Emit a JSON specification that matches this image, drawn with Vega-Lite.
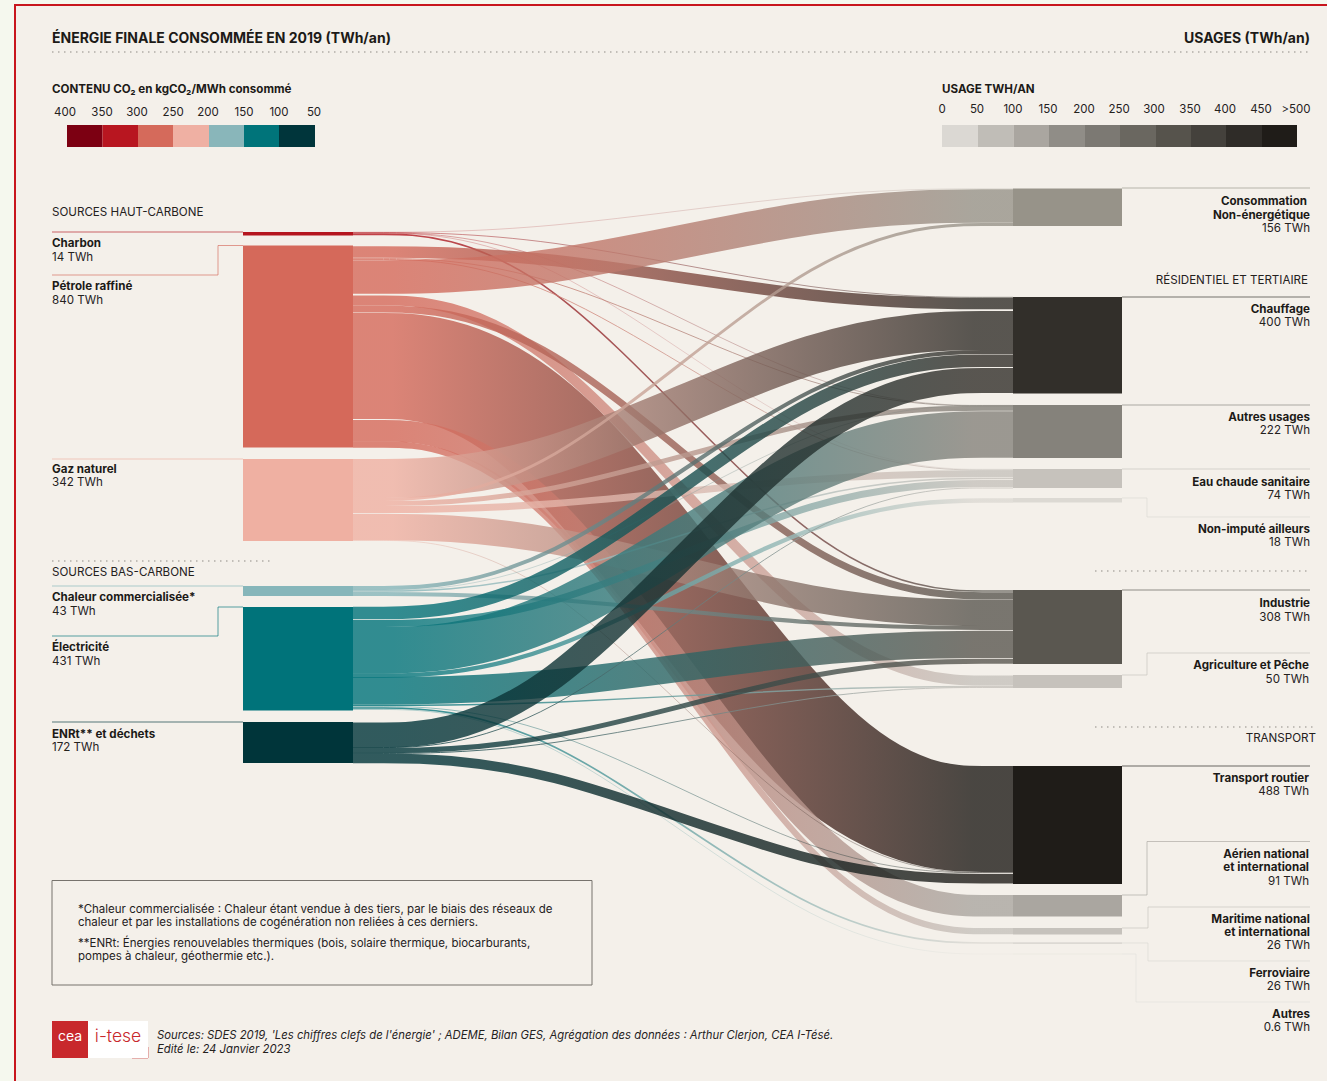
{
"$schema":"https://vega.github.io/schema/vega-lite/v6.json",
"width":1327,"height":1081,"padding":0,
"autosize":"none",
"background":"#f5f8ee",
"config":{"view":{"stroke":null},"text":{"font":"Inter"}},
"layer":[
{"data":{"values":[{"x":15,"x2":1400,"y":5,"y2":1150}]},
 "mark":{"type":"rect","fill":"#f4f0ea","stroke":"#c8161d","strokeWidth":2},
 "encoding":{"x":{"field":"x","type":"quantitative","axis":null,"scale":{"domain":[0,1327],"nice":false,"zero":false}},"x2":{"field":"x2"},
 "y":{"field":"y","type":"quantitative","axis":null,"scale":{"domain":[0,1081],"reverse":true,"nice":false,"zero":false}},"y2":{"field":"y2"}}},
{"data":{"values":[{"x":52,"x2":592,"y":880.5,"y2":985}]},
 "mark":{"type":"rect","fill":"transparent","stroke":"#77736d","strokeWidth":1},
 "encoding":{"x":{"field":"x","type":"quantitative"},"x2":{"field":"x2"},"y":{"field":"y","type":"quantitative"},"y2":{"field":"y2"}}},
{"data":{"values":[
{"id":"a","x":[52,1310],"y":[52,52.01]},
{"id":"b","x":[52,270],"y":[561,561.01]},
{"id":"c","x":[1095,1310],"y":[571,571.01]},
{"id":"d","x":[1095,1313],"y":[727,727.01]}]},
 "transform":[{"flatten":["x","y"]}],
 "mark":{"type":"line","stroke":"#8f8b85","strokeWidth":1,"strokeDash":[1.5,4.5]},
 "encoding":{"detail":{"field":"id"},"x":{"field":"x","type":"quantitative"},"y":{"field":"y","type":"quantitative"}}},
{"data":{"values":[
{"node":"Charbon","x":[52,243],"y":[232,232]},
{"node":"Pétrole","x":[52,218,218,243],"y":[275,275,245.5,245.5]},
{"node":"Gaz","x":[52,243],"y":[459,459]},
{"node":"Chaleur","x":[52,243],"y":[586,586]},
{"node":"Électricité","x":[52,218,218,243],"y":[636,636,607,607]},
{"node":"ENRt","x":[52,243],"y":[722,722]},
{"node":"Non-énergétique","x":[1122,1310],"y":[188,188]},
{"node":"Chauffage","x":[1122,1310],"y":[297,297]},
{"node":"Autres usages","x":[1122,1310],"y":[405,405]},
{"node":"ECS","x":[1122,1310],"y":[469,469]},
{"node":"Non-imputé","x":[1122,1147,1147,1310],"y":[498,498,517,517]},
{"node":"Industrie","x":[1122,1310],"y":[590,590]},
{"node":"Agriculture","x":[1122,1147,1147,1310],"y":[675,675,653,653]},
{"node":"Routier","x":[1122,1310],"y":[766,766]},
{"node":"Aérien","x":[1122,1147,1147,1310],"y":[895,895,841.5,841.5]},
{"node":"Maritime","x":[1122,1148,1148,1310],"y":[928,928,907,907]},
{"node":"Ferroviaire","x":[1122,1148,1148,1310],"y":[943,943,961,961]},
{"node":"Autres","x":[1122,1136,1136,1310],"y":[954,954,1002,1002]},
{"node":"LogoRed","x":[132,148,148],"y":[1058,1058,1047]}]},
 "transform":[{"flatten":["x","y"]}],
 "mark":{"type":"line","strokeWidth":1,"opacity":0.65},
 "encoding":{"order":null,"detail":{"field":"node"},"x":{"field":"x","type":"quantitative"},"y":{"field":"y","type":"quantitative"},
 "color":{"field":"node","type":"nominal","legend":null}}},
{"data":{"values":[
{"flow":"Charbon>Non-énergétique","twh":1.2,"x":[353,537,829,1013],"y":[232.2,232.2,188.8,188.8]},
{"flow":"Charbon>Chauffage","twh":2.5,"x":[353,537,829,1013],"y":[232.6,232.6,297.3,297.3]},
{"flow":"Charbon>Autres usages","twh":2,"x":[353,537,829,1013],"y":[233,233,405.4,405.4]},
{"flow":"Charbon>ECS","twh":1.5,"x":[353,537,829,1013],"y":[233.3,233.3,469.3,469.3]},
{"flow":"Charbon>Industrie","twh":6.5,"x":[353,537,829,1013],"y":[234.4,234.4,591,591]},
{"flow":"Pétrole>Chauffage","twh":48,"x":[353,537,829,1013],"y":[252,252,303.6,303.6]},
{"flow":"Pétrole>Autres usages","twh":3.5,"x":[353,537,829,1013],"y":[258.5,258.5,405.8,405.8]},
{"flow":"Pétrole>ECS","twh":4,"x":[353,537,829,1013],"y":[259.5,259.5,470,470]},
{"flow":"Pétrole>Non-énergétique","twh":140,"x":[353,537,829,1013],"y":[277,277,206,206]},
{"flow":"Pétrole>Agriculture","twh":42,"x":[353,537,829,1013],"y":[300.5,300.5,680.5,680.5]},
{"flow":"Pétrole>Industrie","twh":29,"x":[353,537,829,1013],"y":[309,309,595.75,595.75]},
{"flow":"Pétrole>Routier","twh":441,"x":[353,537,829,1013],"y":[366,366,819,819]},
{"flow":"Pétrole>Aérien","twh":90,"x":[353,537,829,1013],"y":[430.75,430.75,905.75,905.75]},
{"flow":"Pétrole>Maritime","twh":26,"x":[353,537,829,1013],"y":[444.5,444.5,931.2,931.2]},
{"flow":"Gaz>Chauffage","twh":162,"x":[353,537,829,1013],"y":[478.5,478.5,330.5,330.5]},
{"flow":"Gaz>Non-énergétique","twh":12,"x":[353,537,829,1013],"y":[499.5,499.5,224.5,224.5]},
{"flow":"Gaz>Autres usages","twh":21,"x":[353,537,829,1013],"y":[503.5,503.5,408.2,408.2]},
{"flow":"Gaz>ECS","twh":29,"x":[353,537,829,1013],"y":[509.5,509.5,473.7,473.7]},
{"flow":"Gaz>Industrie","twh":110,"x":[353,537,829,1013],"y":[527,527,612.75,612.75]},
{"flow":"Gaz>Routier","twh":2,"x":[353,537,829,1013],"y":[540.5,540.5,872.5,872.5]},
{"flow":"Chaleur>Chauffage","twh":16.6,"x":[353,537,829,1013],"y":[588,588,352,352]},
{"flow":"Chaleur>Autres usages","twh":2,"x":[353,537,829,1013],"y":[590.2,590.2,405.5,405.5]},
{"flow":"Chaleur>ECS","twh":6,"x":[353,537,829,1013],"y":[591,591,478.5,478.5]},
{"flow":"Chaleur>Industrie","twh":17,"x":[353,537,829,1013],"y":[594,594,628,628]},
{"flow":"Électricité>Chauffage","twh":52,"x":[353,537,829,1013],"y":[613,613,360.75,360.75]},
{"flow":"Électricité>ECS","twh":29,"x":[353,537,829,1013],"y":[623.5,623.5,483.5,483.5]},
{"flow":"Électricité>Autres usages","twh":193,"x":[353,537,829,1013],"y":[650.2,650.2,434.5,434.5]},
{"flow":"Électricité>Non-imputé","twh":18,"x":[353,537,829,1013],"y":[675.5,675.5,500.5,500.5]},
{"flow":"Électricité>Industrie","twh":114,"x":[353,537,829,1013],"y":[690.7,690.7,644.4,644.4]},
{"flow":"Électricité>Agriculture","twh":6,"x":[353,537,829,1013],"y":[705.3,705.3,686.5,686.5]},
{"flow":"Électricité>Routier","twh":2,"x":[353,537,829,1013],"y":[706.6,706.6,872.8,872.8]},
{"flow":"Électricité>Ferroviaire","twh":7,"x":[353,537,829,1013],"y":[708,708,943,943]},
{"flow":"Électricité>Autres","twh":1.5,"x":[353,537,829,1013],"y":[709.5,709.5,954,954]},
{"flow":"ENRt>Chauffage","twh":104,"x":[353,537,829,1013],"y":[735,735,380.5,380.5]},
{"flow":"ENRt>ECS","twh":4,"x":[353,537,829,1013],"y":[747.5,747.5,488,488]},
{"flow":"ENRt>Industrie","twh":21,"x":[353,537,829,1013],"y":[750.5,750.5,661.2,661.2]},
{"flow":"ENRt>Agriculture","twh":4,"x":[353,537,829,1013],"y":[753.4,753.4,687.5,687.5]},
{"flow":"ENRt>Routier","twh":40,"x":[353,537,829,1013],"y":[758.4,758.4,878.7,878.7]}]},
 "transform":[{"flatten":["x","y"]}],
 "encoding":{"order":null,
 "x":{"field":"x","type":"quantitative"},"y":{"field":"y","type":"quantitative"},
 "size":{"field":"twh","type":"quantitative","legend":null,"scale":{"domain":[0,840],"range":[0,202]}}},
 "layer":[
 {"transform":[{"filter":{"field":"flow","equal":"Charbon>Non-énergétique"}}],"mark":{"type":"line","interpolate":"basis","opacity":0.8,"stroke":{"gradient":"linear","x1":0,"y1":0,"x2":1,"y2":0,"stops":[{"offset":0.06,"color":"#b5161f"},{"offset":0.94,"color":"#979389"}]}}},
 {"transform":[{"filter":{"field":"flow","equal":"Charbon>Chauffage"}}],"mark":{"type":"line","interpolate":"basis","opacity":0.8,"stroke":{"gradient":"linear","x1":0,"y1":0,"x2":1,"y2":0,"stops":[{"offset":0.06,"color":"#b5161f"},{"offset":0.94,"color":"#322f2a"}]}}},
 {"transform":[{"filter":{"field":"flow","equal":"Charbon>Autres usages"}}],"mark":{"type":"line","interpolate":"basis","opacity":0.8,"stroke":{"gradient":"linear","x1":0,"y1":0,"x2":1,"y2":0,"stops":[{"offset":0.06,"color":"#b5161f"},{"offset":0.94,"color":"#85827b"}]}}},
 {"transform":[{"filter":{"field":"flow","equal":"Charbon>ECS"}}],"mark":{"type":"line","interpolate":"basis","opacity":0.8,"stroke":{"gradient":"linear","x1":0,"y1":0,"x2":1,"y2":0,"stops":[{"offset":0.06,"color":"#b5161f"},{"offset":0.94,"color":"#c6c2bc"}]}}},
 {"transform":[{"filter":{"field":"flow","equal":"Charbon>Industrie"}}],"mark":{"type":"line","interpolate":"basis","opacity":0.8,"stroke":{"gradient":"linear","x1":0,"y1":0,"x2":1,"y2":0,"stops":[{"offset":0.06,"color":"#b5161f"},{"offset":0.94,"color":"#5a5750"}]}}},
 {"transform":[{"filter":{"field":"flow","equal":"Pétrole>Chauffage"}}],"mark":{"type":"line","interpolate":"basis","opacity":0.8,"stroke":{"gradient":"linear","x1":0,"y1":0,"x2":1,"y2":0,"stops":[{"offset":0.06,"color":"#d5695a"},{"offset":0.94,"color":"#322f2a"}]}}},
 {"transform":[{"filter":{"field":"flow","equal":"Pétrole>Autres usages"}}],"mark":{"type":"line","interpolate":"basis","opacity":0.8,"stroke":{"gradient":"linear","x1":0,"y1":0,"x2":1,"y2":0,"stops":[{"offset":0.06,"color":"#d5695a"},{"offset":0.94,"color":"#85827b"}]}}},
 {"transform":[{"filter":{"field":"flow","equal":"Pétrole>ECS"}}],"mark":{"type":"line","interpolate":"basis","opacity":0.8,"stroke":{"gradient":"linear","x1":0,"y1":0,"x2":1,"y2":0,"stops":[{"offset":0.06,"color":"#d5695a"},{"offset":0.94,"color":"#c6c2bc"}]}}},
 {"transform":[{"filter":{"field":"flow","equal":"Pétrole>Non-énergétique"}}],"mark":{"type":"line","interpolate":"basis","opacity":0.8,"stroke":{"gradient":"linear","x1":0,"y1":0,"x2":1,"y2":0,"stops":[{"offset":0.06,"color":"#d5695a"},{"offset":0.94,"color":"#979389"}]}}},
 {"transform":[{"filter":{"field":"flow","equal":"Pétrole>Agriculture"}}],"mark":{"type":"line","interpolate":"basis","opacity":0.8,"stroke":{"gradient":"linear","x1":0,"y1":0,"x2":1,"y2":0,"stops":[{"offset":0.06,"color":"#d5695a"},{"offset":0.94,"color":"#c6c2bc"}]}}},
 {"transform":[{"filter":{"field":"flow","equal":"Pétrole>Industrie"}}],"mark":{"type":"line","interpolate":"basis","opacity":0.8,"stroke":{"gradient":"linear","x1":0,"y1":0,"x2":1,"y2":0,"stops":[{"offset":0.06,"color":"#d5695a"},{"offset":0.94,"color":"#5a5750"}]}}},
 {"transform":[{"filter":{"field":"flow","equal":"Pétrole>Routier"}}],"mark":{"type":"line","interpolate":"basis","opacity":0.8,"stroke":{"gradient":"linear","x1":0,"y1":0,"x2":1,"y2":0,"stops":[{"offset":0.06,"color":"#d5695a"},{"offset":0.94,"color":"#1f1c18"}]}}},
 {"transform":[{"filter":{"field":"flow","equal":"Pétrole>Aérien"}}],"mark":{"type":"line","interpolate":"basis","opacity":0.8,"stroke":{"gradient":"linear","x1":0,"y1":0,"x2":1,"y2":0,"stops":[{"offset":0.06,"color":"#d5695a"},{"offset":0.94,"color":"#aaa6a0"}]}}},
 {"transform":[{"filter":{"field":"flow","equal":"Pétrole>Maritime"}}],"mark":{"type":"line","interpolate":"basis","opacity":0.8,"stroke":{"gradient":"linear","x1":0,"y1":0,"x2":1,"y2":0,"stops":[{"offset":0.06,"color":"#d5695a"},{"offset":0.94,"color":"#c6c2bc"}]}}},
 {"transform":[{"filter":{"field":"flow","equal":"Gaz>Chauffage"}}],"mark":{"type":"line","interpolate":"basis","opacity":0.8,"stroke":{"gradient":"linear","x1":0,"y1":0,"x2":1,"y2":0,"stops":[{"offset":0.06,"color":"#efb0a2"},{"offset":0.94,"color":"#322f2a"}]}}},
 {"transform":[{"filter":{"field":"flow","equal":"Gaz>Non-énergétique"}}],"mark":{"type":"line","interpolate":"basis","opacity":0.8,"stroke":{"gradient":"linear","x1":0,"y1":0,"x2":1,"y2":0,"stops":[{"offset":0.06,"color":"#efb0a2"},{"offset":0.94,"color":"#979389"}]}}},
 {"transform":[{"filter":{"field":"flow","equal":"Gaz>Autres usages"}}],"mark":{"type":"line","interpolate":"basis","opacity":0.8,"stroke":{"gradient":"linear","x1":0,"y1":0,"x2":1,"y2":0,"stops":[{"offset":0.06,"color":"#efb0a2"},{"offset":0.94,"color":"#85827b"}]}}},
 {"transform":[{"filter":{"field":"flow","equal":"Gaz>ECS"}}],"mark":{"type":"line","interpolate":"basis","opacity":0.8,"stroke":{"gradient":"linear","x1":0,"y1":0,"x2":1,"y2":0,"stops":[{"offset":0.06,"color":"#efb0a2"},{"offset":0.94,"color":"#c6c2bc"}]}}},
 {"transform":[{"filter":{"field":"flow","equal":"Gaz>Industrie"}}],"mark":{"type":"line","interpolate":"basis","opacity":0.8,"stroke":{"gradient":"linear","x1":0,"y1":0,"x2":1,"y2":0,"stops":[{"offset":0.06,"color":"#efb0a2"},{"offset":0.94,"color":"#5a5750"}]}}},
 {"transform":[{"filter":{"field":"flow","equal":"Gaz>Routier"}}],"mark":{"type":"line","interpolate":"basis","opacity":0.8,"stroke":{"gradient":"linear","x1":0,"y1":0,"x2":1,"y2":0,"stops":[{"offset":0.06,"color":"#efb0a2"},{"offset":0.94,"color":"#1f1c18"}]}}},
 {"transform":[{"filter":{"field":"flow","equal":"Chaleur>Chauffage"}}],"mark":{"type":"line","interpolate":"basis","opacity":0.8,"stroke":{"gradient":"linear","x1":0,"y1":0,"x2":1,"y2":0,"stops":[{"offset":0.06,"color":"#86b6ba"},{"offset":0.94,"color":"#322f2a"}]}}},
 {"transform":[{"filter":{"field":"flow","equal":"Chaleur>Autres usages"}}],"mark":{"type":"line","interpolate":"basis","opacity":0.8,"stroke":{"gradient":"linear","x1":0,"y1":0,"x2":1,"y2":0,"stops":[{"offset":0.06,"color":"#86b6ba"},{"offset":0.94,"color":"#85827b"}]}}},
 {"transform":[{"filter":{"field":"flow","equal":"Chaleur>ECS"}}],"mark":{"type":"line","interpolate":"basis","opacity":0.8,"stroke":{"gradient":"linear","x1":0,"y1":0,"x2":1,"y2":0,"stops":[{"offset":0.06,"color":"#86b6ba"},{"offset":0.94,"color":"#c6c2bc"}]}}},
 {"transform":[{"filter":{"field":"flow","equal":"Chaleur>Industrie"}}],"mark":{"type":"line","interpolate":"basis","opacity":0.8,"stroke":{"gradient":"linear","x1":0,"y1":0,"x2":1,"y2":0,"stops":[{"offset":0.06,"color":"#86b6ba"},{"offset":0.94,"color":"#5a5750"}]}}},
 {"transform":[{"filter":{"field":"flow","equal":"Électricité>Chauffage"}}],"mark":{"type":"line","interpolate":"basis","opacity":0.8,"stroke":{"gradient":"linear","x1":0,"y1":0,"x2":1,"y2":0,"stops":[{"offset":0.06,"color":"#00737a"},{"offset":0.94,"color":"#322f2a"}]}}},
 {"transform":[{"filter":{"field":"flow","equal":"Électricité>ECS"}}],"mark":{"type":"line","interpolate":"basis","opacity":0.8,"stroke":{"gradient":"linear","x1":0,"y1":0,"x2":1,"y2":0,"stops":[{"offset":0.06,"color":"#00737a"},{"offset":0.94,"color":"#c6c2bc"}]}}},
 {"transform":[{"filter":{"field":"flow","equal":"Électricité>Autres usages"}}],"mark":{"type":"line","interpolate":"basis","opacity":0.8,"stroke":{"gradient":"linear","x1":0,"y1":0,"x2":1,"y2":0,"stops":[{"offset":0.06,"color":"#00737a"},{"offset":0.94,"color":"#85827b"}]}}},
 {"transform":[{"filter":{"field":"flow","equal":"Électricité>Non-imputé"}}],"mark":{"type":"line","interpolate":"basis","opacity":0.8,"stroke":{"gradient":"linear","x1":0,"y1":0,"x2":1,"y2":0,"stops":[{"offset":0.06,"color":"#00737a"},{"offset":0.94,"color":"#dcd9d3"}]}}},
 {"transform":[{"filter":{"field":"flow","equal":"Électricité>Industrie"}}],"mark":{"type":"line","interpolate":"basis","opacity":0.8,"stroke":{"gradient":"linear","x1":0,"y1":0,"x2":1,"y2":0,"stops":[{"offset":0.06,"color":"#00737a"},{"offset":0.94,"color":"#5a5750"}]}}},
 {"transform":[{"filter":{"field":"flow","equal":"Électricité>Agriculture"}}],"mark":{"type":"line","interpolate":"basis","opacity":0.8,"stroke":{"gradient":"linear","x1":0,"y1":0,"x2":1,"y2":0,"stops":[{"offset":0.06,"color":"#00737a"},{"offset":0.94,"color":"#c6c2bc"}]}}},
 {"transform":[{"filter":{"field":"flow","equal":"Électricité>Routier"}}],"mark":{"type":"line","interpolate":"basis","opacity":0.8,"stroke":{"gradient":"linear","x1":0,"y1":0,"x2":1,"y2":0,"stops":[{"offset":0.06,"color":"#00737a"},{"offset":0.94,"color":"#1f1c18"}]}}},
 {"transform":[{"filter":{"field":"flow","equal":"Électricité>Ferroviaire"}}],"mark":{"type":"line","interpolate":"basis","opacity":0.8,"stroke":{"gradient":"linear","x1":0,"y1":0,"x2":1,"y2":0,"stops":[{"offset":0.06,"color":"#00737a"},{"offset":0.94,"color":"#dcd9d3"}]}}},
 {"transform":[{"filter":{"field":"flow","equal":"Électricité>Autres"}}],"mark":{"type":"line","interpolate":"basis","opacity":0.8,"stroke":{"gradient":"linear","x1":0,"y1":0,"x2":1,"y2":0,"stops":[{"offset":0.06,"color":"#00737a"},{"offset":0.94,"color":"#e4e1db"}]}}},
 {"transform":[{"filter":{"field":"flow","equal":"ENRt>Chauffage"}}],"mark":{"type":"line","interpolate":"basis","opacity":0.8,"stroke":{"gradient":"linear","x1":0,"y1":0,"x2":1,"y2":0,"stops":[{"offset":0.06,"color":"#00353a"},{"offset":0.94,"color":"#322f2a"}]}}},
 {"transform":[{"filter":{"field":"flow","equal":"ENRt>ECS"}}],"mark":{"type":"line","interpolate":"basis","opacity":0.8,"stroke":{"gradient":"linear","x1":0,"y1":0,"x2":1,"y2":0,"stops":[{"offset":0.06,"color":"#00353a"},{"offset":0.94,"color":"#c6c2bc"}]}}},
 {"transform":[{"filter":{"field":"flow","equal":"ENRt>Industrie"}}],"mark":{"type":"line","interpolate":"basis","opacity":0.8,"stroke":{"gradient":"linear","x1":0,"y1":0,"x2":1,"y2":0,"stops":[{"offset":0.06,"color":"#00353a"},{"offset":0.94,"color":"#5a5750"}]}}},
 {"transform":[{"filter":{"field":"flow","equal":"ENRt>Agriculture"}}],"mark":{"type":"line","interpolate":"basis","opacity":0.8,"stroke":{"gradient":"linear","x1":0,"y1":0,"x2":1,"y2":0,"stops":[{"offset":0.06,"color":"#00353a"},{"offset":0.94,"color":"#c6c2bc"}]}}},
 {"transform":[{"filter":{"field":"flow","equal":"ENRt>Routier"}}],"mark":{"type":"line","interpolate":"basis","opacity":0.8,"stroke":{"gradient":"linear","x1":0,"y1":0,"x2":1,"y2":0,"stops":[{"offset":0.06,"color":"#00353a"},{"offset":0.94,"color":"#1f1c18"}]}}}
 ]},
{"data":{"values":[
{"node":"Charbon","x":243,"x2":353,"y":232,"y2":235.5},
{"node":"Pétrole","x":243,"x2":353,"y":245.5,"y2":447.5},
{"node":"Gaz","x":243,"x2":353,"y":459,"y2":541},
{"node":"Chaleur","x":243,"x2":353,"y":586,"y2":596},
{"node":"Électricité","x":243,"x2":353,"y":607,"y2":710.5},
{"node":"ENRt","x":243,"x2":353,"y":722,"y2":763},
{"node":"Non-énergétique","x":1013,"x2":1122,"y":188.5,"y2":226},
{"node":"Chauffage","x":1013,"x2":1122,"y":297,"y2":393.5},
{"node":"Autres usages","x":1013,"x2":1122,"y":405,"y2":458},
{"node":"ECS","x":1013,"x2":1122,"y":469,"y2":488},
{"node":"Non-imputé","x":1013,"x2":1122,"y":498,"y2":502.5},
{"node":"Industrie","x":1013,"x2":1122,"y":590,"y2":664},
{"node":"Agriculture","x":1013,"x2":1122,"y":675,"y2":688},
{"node":"Routier","x":1013,"x2":1122,"y":766,"y2":884},
{"node":"Aérien","x":1013,"x2":1122,"y":895,"y2":916.5},
{"node":"Maritime","x":1013,"x2":1122,"y":928,"y2":934.5},
{"node":"Ferroviaire","x":1013,"x2":1122,"y":942.2,"y2":944},
{"node":"Autres","x":1013,"x2":1122,"y":953.7,"y2":954.3},
{"node":"c400","x":67,"x2":102.5,"y":125,"y2":147},
{"node":"c350","x":102.5,"x2":138,"y":125,"y2":147},
{"node":"c300","x":138,"x2":173,"y":125,"y2":147},
{"node":"c250","x":173,"x2":209,"y":125,"y2":147},
{"node":"c200","x":209,"x2":244,"y":125,"y2":147},
{"node":"c150","x":244,"x2":279,"y":125,"y2":147},
{"node":"c100","x":279,"x2":315,"y":125,"y2":147},
{"node":"u0","x":942,"x2":978,"y":125,"y2":147},
{"node":"u50","x":978,"x2":1013.5,"y":125,"y2":147},
{"node":"u100","x":1013.5,"x2":1049,"y":125,"y2":147},
{"node":"u150","x":1049,"x2":1085,"y":125,"y2":147},
{"node":"u200","x":1085,"x2":1120,"y":125,"y2":147},
{"node":"u250","x":1120,"x2":1156,"y":125,"y2":147},
{"node":"u300","x":1156,"x2":1191,"y":125,"y2":147},
{"node":"u350","x":1191,"x2":1226,"y":125,"y2":147},
{"node":"u400","x":1226,"x2":1262,"y":125,"y2":147},
{"node":"u450","x":1262,"x2":1297,"y":125,"y2":147},
{"node":"LogoRed","x":52,"x2":88,"y":1021,"y2":1058},
{"node":"LogoWhite","x":88,"x2":148,"y":1021,"y2":1058}]},
 "mark":{"type":"rect"},
 "encoding":{"x":{"field":"x","type":"quantitative"},"x2":{"field":"x2"},"y":{"field":"y","type":"quantitative"},"y2":{"field":"y2"},
 "color":{"field":"node","type":"nominal","legend":null,"scale":{
 "domain":["Charbon","Pétrole","Gaz","Chaleur","Électricité","ENRt","Non-énergétique","Chauffage","Autres usages","ECS","Non-imputé","Industrie","Agriculture","Routier","Aérien","Maritime","Ferroviaire","Autres","c400","c350","c300","c250","c200","c150","c100","u0","u50","u100","u150","u200","u250","u300","u350","u400","u450","LogoRed","LogoWhite"],
 "range":["#b5161f","#d5695a","#efb0a2","#86b6ba","#00737a","#00353a","#979389","#322f2a","#85827b","#c6c2bc","#dcd9d3","#5a5750","#c6c2bc","#1f1c18","#aaa6a0","#c6c2bc","#dcd9d3","#e4e1db","#7c0012","#b81620","#d56a5b","#efb0a3","#89b6ba","#00747a","#00353b","#dbd8d3","#c0bdb7","#aaa6a0","#908d87","#7c7973","#6a6760","#56534c","#44413c","#2f2c28","#1f1c18","#c8282c","#ffffff"]}}}},
{"data":{"values":[{"t":"ÉNERGIE FINALE CONSOMMÉE EN 2019 (TWh/an)","x":52,"y":39}]},
 "mark":{"type":"text","align":"left","baseline":"middle","font":"Inter","fontSize":14,"fontWeight":700,"color":"#1c1a17"},
 "encoding":{"text":{"field":"t"},"x":{"field":"x","type":"quantitative"},"y":{"field":"y","type":"quantitative"}}},
{"data":{"values":[{"t":"USAGES (TWh/an)","x":1310,"y":39}]},
 "mark":{"type":"text","align":"right","baseline":"middle","font":"Inter","fontSize":14,"fontWeight":700,"color":"#1c1a17"},
 "encoding":{"text":{"field":"t"},"x":{"field":"x","type":"quantitative"},"y":{"field":"y","type":"quantitative"}}},
{"data":{"values":[
{"t":"CONTENU CO₂ en kgCO₂/MWh consommé","x":52,"y":89},{"t":"USAGE TWH/AN","x":942,"y":89},
{"t":"Charbon","x":52,"y":243},{"t":"Pétrole raffiné","x":52,"y":286},{"t":"Gaz naturel","x":52,"y":469},
{"t":"Chaleur commercialisée*","x":52,"y":597},{"t":"Électricité","x":52,"y":647},{"t":"ENRt** et déchets","x":52,"y":734}]},
 "mark":{"type":"text","align":"left","baseline":"middle","dy":1,"font":"Inter","fontSize":11.6,"fontWeight":700,"color":"#1c1a17"},
 "encoding":{"text":{"field":"t"},"x":{"field":"x","type":"quantitative"},"y":{"field":"y","type":"quantitative"}}},
{"data":{"values":[
{"t":"SOURCES HAUT-CARBONE","x":52,"y":212},{"t":"14 TWh","x":52,"y":256.5},{"t":"840 TWh","x":52,"y":299.5},{"t":"342 TWh","x":52,"y":482},
{"t":"SOURCES BAS-CARBONE","x":52,"y":572},{"t":"43 TWh","x":52,"y":610.5},{"t":"431 TWh","x":52,"y":661},{"t":"172 TWh","x":52,"y":747}]},
 "mark":{"type":"text","align":"left","baseline":"middle","dy":1,"font":"Inter","fontSize":11.6,"fontWeight":400,"color":"#24211d"},
 "encoding":{"text":{"field":"t"},"x":{"field":"x","type":"quantitative"},"y":{"field":"y","type":"quantitative"}}},
{"data":{"values":[
{"t":"Consommation","x":1307,"y":201},{"t":"Non-énergétique","x":1310,"y":214.5},{"t":"Chauffage","x":1310,"y":309},{"t":"Autres usages","x":1310,"y":417},
{"t":"Eau chaude sanitaire","x":1310,"y":481.5},{"t":"Non-imputé ailleurs","x":1310,"y":529},{"t":"Industrie","x":1310,"y":603},{"t":"Agriculture et Pêche","x":1309,"y":665},
{"t":"Transport routier","x":1309,"y":778},{"t":"Aérien national","x":1309,"y":854},{"t":"et international","x":1309,"y":867},
{"t":"Maritime national","x":1310,"y":919},{"t":"et international","x":1310,"y":932},{"t":"Ferroviaire","x":1310,"y":973},{"t":"Autres","x":1310,"y":1014}]},
 "mark":{"type":"text","align":"right","baseline":"middle","dy":1,"font":"Inter","fontSize":11.6,"fontWeight":700,"color":"#1c1a17"},
 "encoding":{"text":{"field":"t"},"x":{"field":"x","type":"quantitative"},"y":{"field":"y","type":"quantitative"}}},
{"data":{"values":[
{"t":"156 TWh","x":1310,"y":227.5},{"t":"RÉSIDENTIEL ET TERTIAIRE","x":1308,"y":280},{"t":"400 TWh","x":1310,"y":322},{"t":"222 TWh","x":1310,"y":430},
{"t":"74 TWh","x":1310,"y":494.5},{"t":"18 TWh","x":1310,"y":542},{"t":"308 TWh","x":1310,"y":616.5},{"t":"50 TWh","x":1309,"y":678.5},{"t":"TRANSPORT","x":1316,"y":738},
{"t":"488 TWh","x":1309,"y":791},{"t":"91 TWh","x":1309,"y":880.5},{"t":"26 TWh","x":1310,"y":945},{"t":"26 TWh","x":1310,"y":986},{"t":"0.6 TWh","x":1310,"y":1027}]},
 "mark":{"type":"text","align":"right","baseline":"middle","dy":1,"font":"Inter","fontSize":11.6,"fontWeight":400,"color":"#24211d"},
 "encoding":{"text":{"field":"t"},"x":{"field":"x","type":"quantitative"},"y":{"field":"y","type":"quantitative"}}},
{"data":{"values":[
{"t":"400","x":65,"y":113},{"t":"350","x":102,"y":113},{"t":"300","x":137,"y":113},{"t":"250","x":173,"y":113},{"t":"200","x":208,"y":113},{"t":"150","x":244,"y":113},{"t":"100","x":279,"y":113},{"t":"50","x":314,"y":113},
{"t":"0","x":942,"y":110},{"t":"50","x":977,"y":110},{"t":"100","x":1013,"y":110},{"t":"150","x":1048,"y":110},{"t":"200","x":1084,"y":110},{"t":"250","x":1119,"y":110},{"t":"300","x":1154,"y":110},{"t":"350","x":1190,"y":110},{"t":"400","x":1225,"y":110},{"t":"450","x":1261,"y":110},{"t":">500","x":1296,"y":110}]},
 "mark":{"type":"text","align":"center","baseline":"middle","font":"Inter","fontSize":11.5,"fontWeight":400,"color":"#24211d"},
 "encoding":{"text":{"field":"t"},"x":{"field":"x","type":"quantitative"},"y":{"field":"y","type":"quantitative"}}},
{"data":{"values":[
{"t":"*Chaleur commercialisée : Chaleur étant vendue à des tiers, par le biais des réseaux de","x":78,"y":909},
{"t":"chaleur et par les installations de cogénération non reliées à ces derniers.","x":78,"y":922},
{"t":"**ENRt: Énergies renouvelables thermiques (bois, solaire thermique, biocarburants,","x":78,"y":943},
{"t":"pompes à chaleur, géothermie etc.).","x":78,"y":956}]},
 "mark":{"type":"text","align":"left","baseline":"middle","dy":1,"font":"Inter","fontSize":11.5,"fontWeight":400,"color":"#24211d"},
 "encoding":{"text":{"field":"t"},"x":{"field":"x","type":"quantitative"},"y":{"field":"y","type":"quantitative"}}},
{"data":{"values":[
{"t":"Sources: SDES 2019, 'Les chiffres clefs de l'énergie' ; ADEME, Bilan GES, Agrégation des données : Arthur Clerjon, CEA I-Tésé.","x":157,"y":1035},
{"t":"Edité le: 24 Janvier 2023","x":157,"y":1048.5}]},
 "mark":{"type":"text","align":"left","baseline":"middle","dy":1,"font":"Inter","fontSize":11.3,"fontStyle":"italic","color":"#24211d"},
 "encoding":{"text":{"field":"t"},"x":{"field":"x","type":"quantitative"},"y":{"field":"y","type":"quantitative"}}},
{"data":{"values":[{"t":"cea","x":70,"y":1037}]},
 "mark":{"type":"text","align":"center","baseline":"middle","font":"Inter","fontSize":14,"color":"#ffffff"},
 "encoding":{"text":{"field":"t"},"x":{"field":"x","type":"quantitative"},"y":{"field":"y","type":"quantitative"}}},
{"data":{"values":[{"t":"i-tese","x":118,"y":1037}]},
 "mark":{"type":"text","align":"center","baseline":"middle","font":"Inter","fontSize":17.5,"fontWeight":300,"color":"#c8282c"},
 "encoding":{"text":{"field":"t"},"x":{"field":"x","type":"quantitative"},"y":{"field":"y","type":"quantitative"}}}
]
}
